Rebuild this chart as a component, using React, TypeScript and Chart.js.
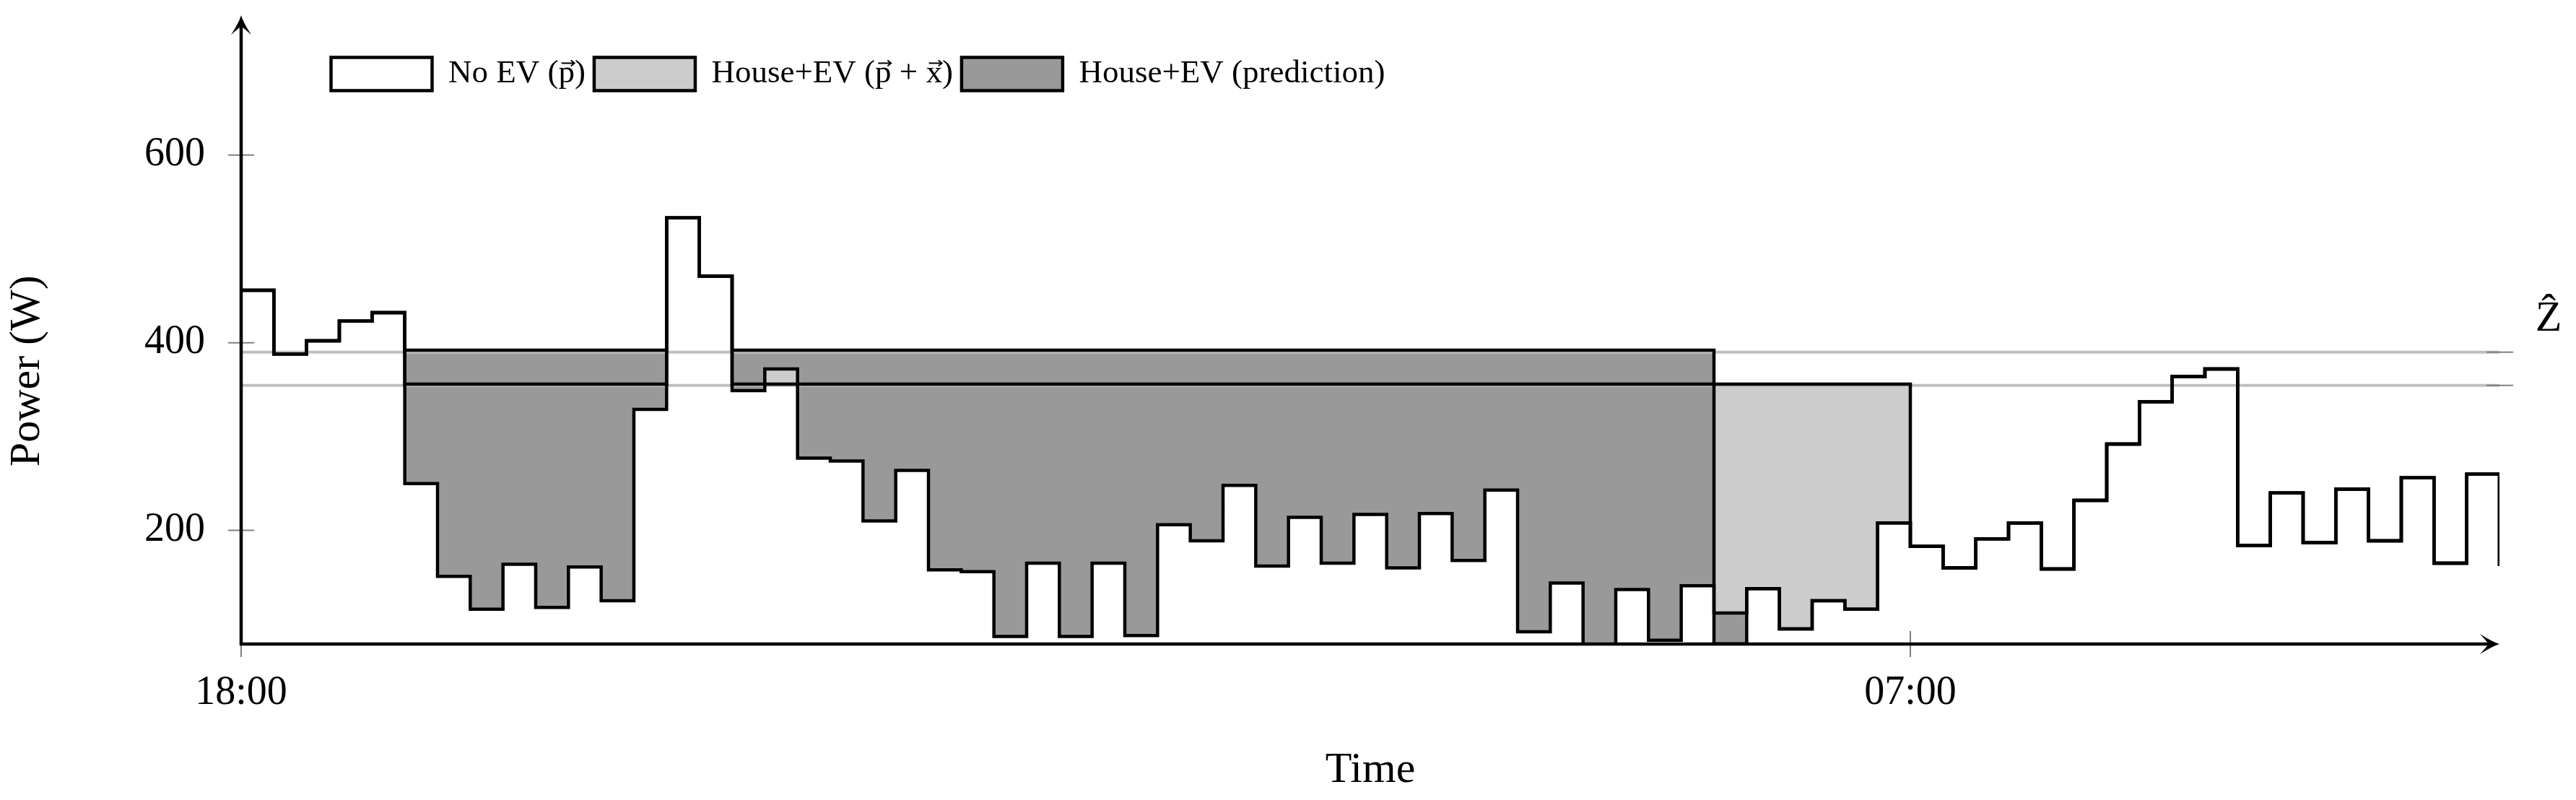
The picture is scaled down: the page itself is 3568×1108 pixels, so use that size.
import { useEffect, useRef } from 'react';
import { Chart, registerables } from 'chart.js';

Chart.register(...registerables);

// ---- data (one value per time step; value of step i holds from i to i+1) ----
const noEv = [
  456, 388, 402, 423, 432, 250, 151, 116, 164, 118,
  161, 125, 329, 533, 471, 349, 372, 277, 274, 210,
  264, 158, 156, 87, 165, 87, 165, 88, 206, 189,
  248, 162, 214, 165, 217, 160, 218, 168, 243, 92,
  144, 78, 137, 83, 141, 112, 138, 95, 125, 116,
  208, 183, 160, 191, 208, 159, 232, 292, 337, 364,
  372, 184, 240, 187, 244, 189, 256, 165, 260, 162,
];

const houseEv = [
  456, 388, 402, 423, 432, 356, 356, 356, 356, 356,
  356, 356, 356, 533, 471, 356, 356, 356, 356, 356,
  356, 356, 356, 356, 356, 356, 356, 356, 356, 356,
  356, 356, 356, 356, 356, 356, 356, 356, 356, 356,
  356, 356, 356, 356, 356, 356, 356, 356, 356, 356,
  356, 183, 160, 191, 208, 159, 232, 292, 337, 364,
  372, 184, 240, 187, 244, 189, 256, 165, 260, 162,
];

const housePrediction = [
  456, 388, 402, 423, 432, 392, 392, 392, 392, 392,
  392, 392, 392, 533, 471, 392, 392, 392, 392, 392,
  392, 392, 392, 392, 392, 392, 392, 392, 392, 392,
  392, 392, 392, 392, 392, 392, 392, 392, 392, 392,
  392, 392, 392, 392, 392, 79, 138, 95, 125, 116,
  208, 183, 160, 191, 208, 159, 232, 292, 337, 364,
  372, 184, 240, 187, 244, 189, 256, 165, 260, 162,
];

const zhatLevels = [390, 354.5];

const xTickValues = [0, 51];
const xTickLabels = ['18:00', '07:00'];
const yTickValues = [200, 400, 600];

const seriesLabels = ['No EV (p)', 'House+EV (prediction)', 'House+EV (p + x)'];
const legendRank = [0, 2, 1];

const Y_MIN = 78.9;
const Y_MAX = 661;
const Y_ARROW = 749;

const FONT = '"Liberation Serif", "Times New Roman", serif';
const LEGEND_FONT_SIZE = 45;
const LEGEND_BOX_W = 140;
const LEGEND_BOX_H = 46;
const LEGEND_PAD = 12;
const LINE_W = 4.5;

function toXY(values: number[]) {
  return values.map((v, i) => ({ x: i, y: v }));
}

function drawArrow(ctx: CanvasRenderingContext2D, x: number, y: number, angle: number) {
  ctx.save();
  ctx.translate(x, y);
  ctx.rotate(angle);
  ctx.beginPath();
  ctx.moveTo(0, 0);
  ctx.quadraticCurveTo(-10, -3, -27, -14);
  ctx.quadraticCurveTo(-18, -4, -15, 0);
  ctx.quadraticCurveTo(-18, 4, -27, 14);
  ctx.quadraticCurveTo(-10, 3, 0, 0);
  ctx.closePath();
  ctx.fillStyle = '#000';
  ctx.fill();
  ctx.restore();
}

function drawVectorMark(ctx: CanvasRenderingContext2D, cx: number, y: number, len: number) {
  ctx.save();
  ctx.strokeStyle = '#000';
  ctx.lineWidth = 1.8;
  ctx.beginPath();
  ctx.moveTo(cx - len / 2, y);
  ctx.lineTo(cx + len / 2, y);
  ctx.moveTo(cx + len / 2 - 5, y - 4);
  ctx.lineTo(cx + len / 2, y);
  ctx.lineTo(cx + len / 2 - 5, y + 4);
  ctx.stroke();
  ctx.restore();
}

const decorPlugin = {
  id: 'decor',
  afterLayout(chart: any) {
    if (chart.legend) {
      chart.legend.left = 458.5 - LEGEND_PAD;
    }
  },
  afterDraw(chart: any) {
    const { ctx, chartArea: a, scales } = chart;
    const xs = scales.x;
    const ys = scales.y;
    ctx.save();
    // tick marks crossing the axes
    ctx.strokeStyle = '#808080';
    ctx.lineWidth = 2;
    yTickValues.forEach((v) => {
      const py = ys.getPixelForValue(v);
      ctx.beginPath();
      ctx.moveTo(a.left - 18, py);
      ctx.lineTo(a.left + 18, py);
      ctx.stroke();
    });
    xTickValues.forEach((v) => {
      const px = xs.getPixelForValue(v);
      ctx.beginPath();
      ctx.moveTo(px, a.bottom - 18);
      ctx.lineTo(px, a.bottom + 18);
      ctx.stroke();
    });
    zhatLevels.forEach((v) => {
      const py = ys.getPixelForValue(v);
      ctx.beginPath();
      ctx.moveTo(a.right - 18, py);
      ctx.lineTo(a.right + 19, py);
      ctx.stroke();
    });
    // axis lines with arrows
    const topY = ys.getPixelForValue(Y_ARROW);
    ctx.strokeStyle = '#000';
    ctx.lineWidth = LINE_W;
    ctx.lineCap = 'butt';
    ctx.beginPath();
    ctx.moveTo(a.left, a.bottom + 2);
    ctx.lineTo(a.left, topY + 15);
    ctx.stroke();
    ctx.beginPath();
    ctx.moveTo(a.left - 2, a.bottom);
    ctx.lineTo(a.right - 15, a.bottom);
    ctx.stroke();
    drawArrow(ctx, a.left, topY, -Math.PI / 2);
    drawArrow(ctx, a.right, a.bottom, 0);
    // Z-hat label
    ctx.fillStyle = '#000';
    ctx.font = `60px ${FONT}`;
    ctx.textAlign = 'center';
    ctx.textBaseline = 'alphabetic';
    ctx.fillText('\u1E90', a.right + 68, ys.getPixelForValue(zhatLevels[0]) - 30);
    // vector arrows over p and x in the legend
    const lg = chart.legend;
    if (lg && lg.legendItems) {
      ctx.font = `${LEGEND_FONT_SIZE}px ${FONT}`;
      let x = lg.left + LEGEND_PAD;
      const midY = lg.top + LEGEND_PAD + Math.max(LEGEND_FONT_SIZE, LEGEND_BOX_H) / 2;
      lg.legendItems.forEach((item: any) => {
        const text: string = item.text;
        const textX = x + LEGEND_BOX_W + LEGEND_FONT_SIZE / 2;
        const re = /(?<=[( ])[px](?=[) ])/g;
        let m: RegExpExecArray | null;
        while ((m = re.exec(text)) !== null) {
          const pre = ctx.measureText(text.slice(0, m.index)).width;
          const w = ctx.measureText(m[0]).width;
          drawVectorMark(ctx, textX + pre + w / 2 + 2, midY - 15, w * 0.8);
        }
        x = textX + ctx.measureText(text).width + LEGEND_PAD;
      });
    }
    ctx.restore();
  },
};

export default function App() {
  const canvasRef = useRef<HTMLCanvasElement | null>(null);

  useEffect(() => {
    document.body.style.margin = '0';
    const canvas = canvasRef.current;
    if (!canvas) return;
    const lastX = noEv.length - 1;
    const stepStyle = {
      borderColor: '#000000',
      borderWidth: LINE_W,
      stepped: true,
      pointRadius: 0,
      borderJoinStyle: 'miter',
      borderCapStyle: 'butt',
    };
    const chart = new Chart(canvas, {
      type: 'line',
      data: {
        datasets: [
          { ...stepStyle, label: seriesLabels[0], data: toXY(noEv), backgroundColor: '#ffffff', fill: false },
          { ...stepStyle, label: seriesLabels[1], data: toXY(housePrediction), backgroundColor: '#999999', fill: 0 },
          { ...stepStyle, label: seriesLabels[2], data: toXY(houseEv), backgroundColor: '#cccccc', fill: 0 },
          {
            label: 'Zhat1',
            data: [{ x: 0, y: zhatLevels[0] }, { x: lastX, y: zhatLevels[0] }],
            borderColor: '#bfbfbf', borderWidth: 4, pointRadius: 0, fill: false,
          },
          {
            label: 'Zhat2',
            data: [{ x: 0, y: zhatLevels[1] }, { x: lastX, y: zhatLevels[1] }],
            borderColor: '#bfbfbf', borderWidth: 4, pointRadius: 0, fill: false,
          },
        ],
      } as any,
      options: {
        animation: false,
        responsive: true,
        maintainAspectRatio: false,
        events: [],
        layout: { padding: { left: 0, right: 106, top: 79.5 - LEGEND_PAD, bottom: 0 } },
        plugins: {
          filler: { drawTime: 'beforeDatasetsDraw' },
          tooltip: { enabled: false },
          legend: {
            display: true,
            position: 'top',
            align: 'start',
            fullSize: false,
            labels: {
              boxWidth: LEGEND_BOX_W,
              boxHeight: LEGEND_BOX_H,
              padding: LEGEND_PAD,
              color: '#000',
              font: { family: FONT, size: LEGEND_FONT_SIZE },
              filter: (item: any) => item.datasetIndex < 3,
              sort: (p: any, q: any) => legendRank[p.datasetIndex] - legendRank[q.datasetIndex],
            },
          },
        },
        scales: {
          x: {
            type: 'linear',
            min: 0,
            max: lastX,
            grid: { display: false, drawTicks: false },
            border: { display: false },
            afterBuildTicks: (scale: any) => {
              scale.ticks = xTickValues.map((value) => ({ value }));
            },
            afterFit: (scale: any) => {
              scale.height = 216;
            },
            ticks: {
              autoSkip: false,
              maxRotation: 0,
              padding: 35,
              color: '#000',
              font: { family: FONT, size: 56 },
              callback: (value: any) => {
                const i = xTickValues.indexOf(Number(value));
                return i >= 0 ? xTickLabels[i] : '';
              },
            },
            title: {
              display: true,
              text: 'Time',
              color: '#000',
              font: { family: FONT, size: 60 },
              padding: { top: 0, bottom: 5 },
            },
          },
          y: {
            type: 'linear',
            min: Y_MIN,
            max: Y_MAX,
            grid: { display: false, drawTicks: false },
            border: { display: false },
            afterBuildTicks: (scale: any) => {
              scale.ticks = yTickValues.map((value) => ({ value }));
            },
            afterFit: (scale: any) => {
              scale.width = 334;
            },
            ticks: {
              padding: 50,
              color: '#000',
              font: { family: FONT, size: 56 },
              callback: (value: any) => String(value),
            },
            title: {
              display: true,
              text: 'Power (W)',
              color: '#000',
              font: { family: FONT, size: 60 },
              padding: { top: 2, bottom: 0 },
            },
          },
        },
      } as any,
      plugins: [decorPlugin],
    });
    return () => chart.destroy();
  }, []);

  return (
    <div style={{ position: 'relative', width: '3568px', height: '1108px' }}>
      <canvas ref={canvasRef} style={{ display: 'block' }} />
    </div>
  );
}
